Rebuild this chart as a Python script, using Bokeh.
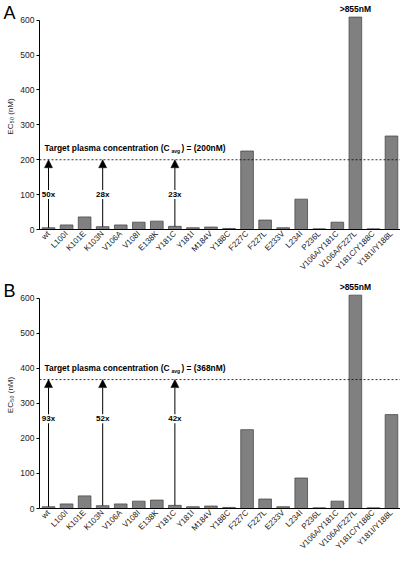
from bokeh.plotting import figure
from bokeh.models import (ColumnDataSource, Range1d, FixedTicker, Span, Arrow,
                          NormalHead, LabelSet, Label, LinearAxis)
from bokeh.layouts import column
from bokeh.embed import file_html
from bokeh.resources import INLINE
from bokeh.core.properties import value

# ---------------- data ----------------
mutants = ["wt", "L100I", "K101E", "K103N", "V106A", "V108I", "E138K", "Y181C",
           "Y181I", "M184V", "Y188C", "F227C", "F227L", "E233V", "L234I", "P236L",
           "V106A/Y181C", "V106A/F227L", "Y181C/Y188C", "Y181I/Y188L"]
# EC50 (nM); V106A/F227L is off-scale (>855 nM), drawn truncated at top of axis
ec50 = [5, 13, 36, 8, 13, 21, 24, 9, 5, 7, 3, 225, 27, 5, 87, 2, 21, 609, 2, 268]
cap_index = 17
cap_label = ">855nM"

y_ticks = [0, 100, 200, 300, 400, 500, 600]

arrow_mutants = ["wt", "K103N", "Y181C"]

panel_letters = ["A", "B"]
targets = [200, 368]
target_texts = ["200nM", "368nM"]
fold_labels = [["50x", "28x", "23x"], ["93x", "52x", "42x"]]
fold_label_y = [100, 256]

FONT = "Liberation Sans"
Y_MAX = 648        # top of the plotting frame (room for the off-scale label)
LETTER_Y = 634     # vertical position of the panel letter


def make_panel(k, height):
    n = len(mutants)
    xs = [i + 0.5 for i in range(n)]
    p = figure(width=400, height=height, output_backend="svg",
               toolbar_location=None,
               x_range=Range1d(0, n), y_range=Range1d(0, Y_MAX),
               min_border_left=31, min_border_right=0,
               min_border_top=3, min_border_bottom=40)
    p.outline_line_color = None
    p.grid.visible = False
    p.background_fill_color = "white"

    src = ColumnDataSource(dict(x=xs, top=ec50))
    p.vbar(x="x", top="top", bottom=0, width=0.7, source=src,
           fill_color="#808080", line_color="#4a4a4a", line_width=0.8)

    # x axis
    xa = p.xaxis[0]
    xa.ticker = FixedTicker(ticks=xs)
    xa.major_label_overrides = {x: m for x, m in zip(xs, mutants)}
    xa.major_label_orientation = 0.785398
    xa.major_tick_out = 0
    xa.major_tick_in = 0
    xa.minor_tick_out = 0
    xa.minor_tick_in = 0
    xa.major_label_standoff = 3
    xa.major_label_text_font = FONT
    xa.major_label_text_font_size = "8px"
    xa.major_label_text_line_height = 1.0
    xa.major_label_text_color = "#222222"
    xa.axis_line_color = "black"
    xa.axis_line_width = 1

    # y axis
    ya = p.yaxis[0]
    ya.ticker = FixedTicker(ticks=y_ticks)
    ya.bounds = (y_ticks[0], y_ticks[-1])
    ya.major_tick_out = 3
    ya.major_tick_in = 0
    ya.minor_tick_out = 0
    ya.minor_tick_in = 0
    ya.major_label_standoff = 2
    ya.major_label_text_font = FONT
    ya.major_label_text_font_size = "8.5px"
    ya.major_label_text_color = "#222222"
    ya.axis_line_color = "black"
    ya.axis_label = "EC\u2085\u2080 (nM)"
    ya.axis_label_text_font = FONT
    ya.axis_label_text_font_size = "8px"
    ya.axis_label_text_font_style = "normal"
    ya.axis_label_text_color = "#222222"
    ya.axis_label_standoff = 2

    # panel letter, drawn as the single label of an extra (invisible) left axis
    la = LinearAxis(ticker=FixedTicker(ticks=[LETTER_Y]),
                    major_label_overrides={LETTER_Y: panel_letters[k]},
                    axis_line_color=None, major_tick_line_color=None,
                    minor_tick_line_color=None, major_tick_out=0, major_tick_in=0,
                    major_label_standoff=-12,
                    major_label_text_font=FONT, major_label_text_font_size="18px",
                    major_label_text_color="black")
    p.add_layout(la, "left")

    # target line
    t = targets[k]
    p.add_layout(Span(location=t, dimension="width", line_color="black",
                      line_width=0.8, line_dash="2 2"))

    # target text with subscript
    p.text(x=[0], y=[t], text=["Target plasma concentration (C"],
           x_offset=5, y_offset=-12, text_font=value(FONT), text_font_size="8.4px",
           text_font_style="bold", text_baseline="middle", text_align="left",
           text_color="black")
    p.text(x=[0], y=[t], text=["avg"],
           x_offset=132, y_offset=-8.5, text_font=value(FONT), text_font_size="5px",
           text_font_style="bold", text_baseline="middle", text_align="left",
           text_color="black")
    p.text(x=[0], y=[t], text=[") = (" + target_texts[k] + ")"],
           x_offset=142, y_offset=-12, text_font=value(FONT), text_font_size="8.4px",
           text_font_style="bold", text_baseline="middle", text_align="left",
           text_color="black")

    # arrows
    idx = [mutants.index(m) for m in arrow_mutants]
    asrc = ColumnDataSource(dict(x=[xs[i] for i in idx],
                                 y0=[ec50[i] for i in idx],
                                 y1=[t] * len(idx),
                                 ly=[fold_label_y[k]] * len(idx),
                                 lab=fold_labels[k]))
    p.add_layout(Arrow(end=NormalHead(size=8, fill_color="black", line_color="black",
                                      line_width=0.5),
                       x_start="x", y_start="y0", x_end="x", y_end="y1",
                       line_color="black", line_width=1, source=asrc))
    p.add_layout(LabelSet(x="x", y="ly", text="lab", source=asrc,
                          text_align="center", text_baseline="middle",
                          text_font=value(FONT), text_font_size="8px",
                          text_font_style="bold", text_color="black",
                          background_fill_color="white"))

    # off-scale label just above the truncated bar
    p.add_layout(Label(x=xs[cap_index], y=ec50[cap_index], text=cap_label, y_offset=3,
                       text_align="center", text_baseline="bottom",
                       text_font=FONT, text_font_size="8.5px",
                       text_font_style="bold", text_color="black"))
    return p


pA = make_panel(0, 278)
pB = make_panel(1, 279)

layout = column(pA, pB, spacing=0)
open("out.html", "w").write(file_html(layout, INLINE))
